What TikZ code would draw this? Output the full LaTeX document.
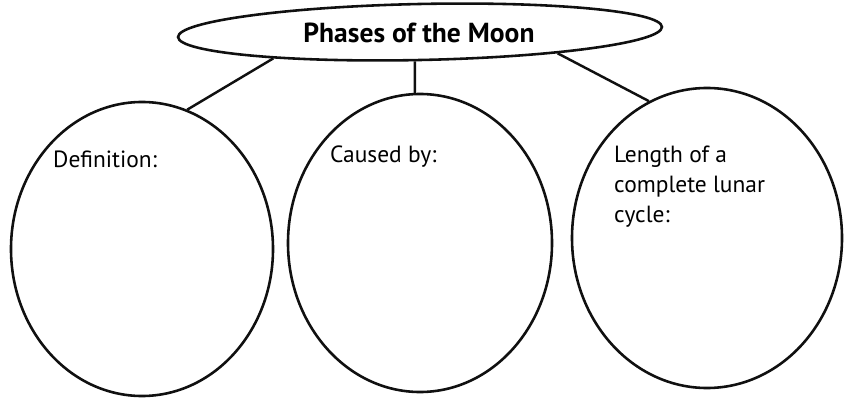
\documentclass[tikz,border=0pt]{standalone}
\usepackage{fontspec}
\setmainfont{PT Sans}
\usetikzlibrary{shapes.geometric}
\definecolor{inkblack}{HTML}{101010}

\begin{document}
\begin{tikzpicture}[x=0.03cm,y=-0.03cm,
  bubble/.style={draw=inkblack,ellipse,line width=2.2pt,inner sep=0pt},
  lbl/.style={anchor=base west,align=left,inner sep=0pt,font=\fontsize{20}{25.6}\selectfont},
  link/.style={draw=inkblack,line width=2.1pt}]
  \useasboundingbox(0,0)rectangle(846,399);
  \node[bubble,rotate=1.2,minimum width=14.52cm,minimum height=1.68cm](moon)at(420,32){};
  \node[font=\fontsize{23.5}{28}\selectfont\bfseries](title)at(419,33){Phases of the Moon};
  \node[bubble,minimum width=7.86cm,minimum height=8.82cm](defn)at(142,249){};
  \node[bubble,minimum width=7.92cm,minimum height=8.94cm](cause)at(420,243){};
  \node[bubble,minimum width=8.1cm,minimum height=9cm](cycle)at(707,238){};
  \node[lbl](defntext)at(53,168){Definition:};
  \node[lbl](causetext)at(330,163){Caused by:};
  \node[lbl,anchor=north west](cycletext)at(614,146){Length of a\\complete lunar\\cycle:};
  \draw[link](moon.189)--(defn.72);
  \draw[link](moon.259)--(cause.92);
  \draw[link](moon.350)--(cycle.113);
\end{tikzpicture}
\end{document}
